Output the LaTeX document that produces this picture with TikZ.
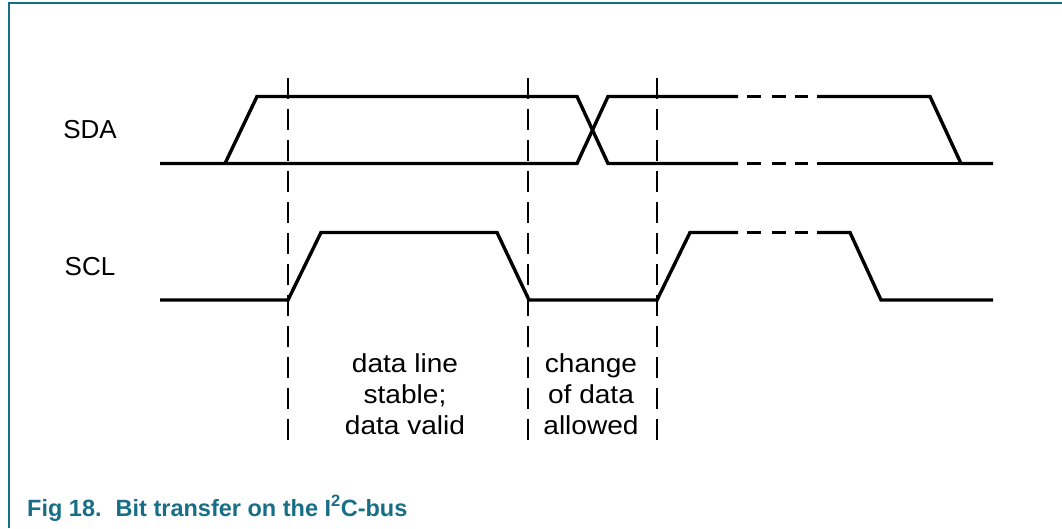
\documentclass[tikz,border=0pt]{standalone}
\usepackage{fontspec}
\setmainfont{Liberation Sans}
\newfontfamily\widefont[FakeStretch=1.08]{Liberation Sans}
\definecolor{capteal}{RGB}{24,110,135}
\begin{document}
\begin{tikzpicture}[x=1pt,y=-1pt,
  sig/.style={line width=3.4pt,line join=miter},
  sigdash/.style={line width=3.4pt},
  guide/.style={line width=1.4pt,dash pattern=on 21pt off 10pt},
  lbl/.style={font=\fontsize{26}{31}\selectfont,inner sep=0pt,anchor=center},
  note/.style={font=\widefont\fontsize{26}{31}\selectfont,align=center,inner sep=0pt,anchor=base}]
\useasboundingbox (0,0) rectangle (1062,528);
% frame
\draw[capteal,line width=1.3pt] (9,528) -- (9,3) -- (1062,3);
% guides
\foreach \gx/\gn in {288/ga,528/gb,657/gc}{
  \coordinate (\gn t) at (\gx,78);
  \coordinate (\gn b) at (\gx,441);
  \draw[guide] (\gn t) -- (\gn b);
}
% SDA
\draw[sig] (160,163.5) -- (577,163.5) -- (608,96.5) -- (738,96.5);
\draw[sig] (225,163.5) -- (257,96.5) -- (577,96.5) -- (608,163.5) -- (738,163.5);
\foreach \yy in {96.5,163.5}{
  \draw[sigdash] (747,\yy) -- (761,\yy);
  \draw[sigdash] (772,\yy) -- (786,\yy);
  \draw[sigdash] (795,\yy) -- (808,\yy);
}
\draw[sig] (817,96.5) -- (930,96.5) -- (961,163.5) -- (993,163.5);
\draw[sig] (817,163.5) -- (961,163.5);
% SCL
\draw[sig] (160,300) -- (288,300) -- (321,232.5) -- (497,232.5) -- (529,300) -- (657,300) -- (690,232.5) -- (738,232.5);
\draw[sigdash] (747,232.5) -- (761,232.5);
\draw[sigdash] (772,232.5) -- (786,232.5);
\draw[sigdash] (795,232.5) -- (808,232.5);
\draw[sig] (817,232.5) -- (850,232.5) -- (881,300) -- (993,300);
% labels
\node[lbl] (sda) at (90,130) {SDA};
\node[lbl] (scl) at (90,267) {SCL};
\node[note] (stable) at (405,434) {data line\\stable;\\data valid};
\node[note] (change) at (591,434) {change\\of data\\allowed};
\node[font=\fontsize{23.5}{28}\selectfont\bfseries,text=capteal,anchor=base west,inner sep=0pt] (cap) at (27,516)
  {Fig 18.\hspace{0.6em}Bit transfer on the I\textsuperscript{2}C-bus};
\end{tikzpicture}
\end{document}
